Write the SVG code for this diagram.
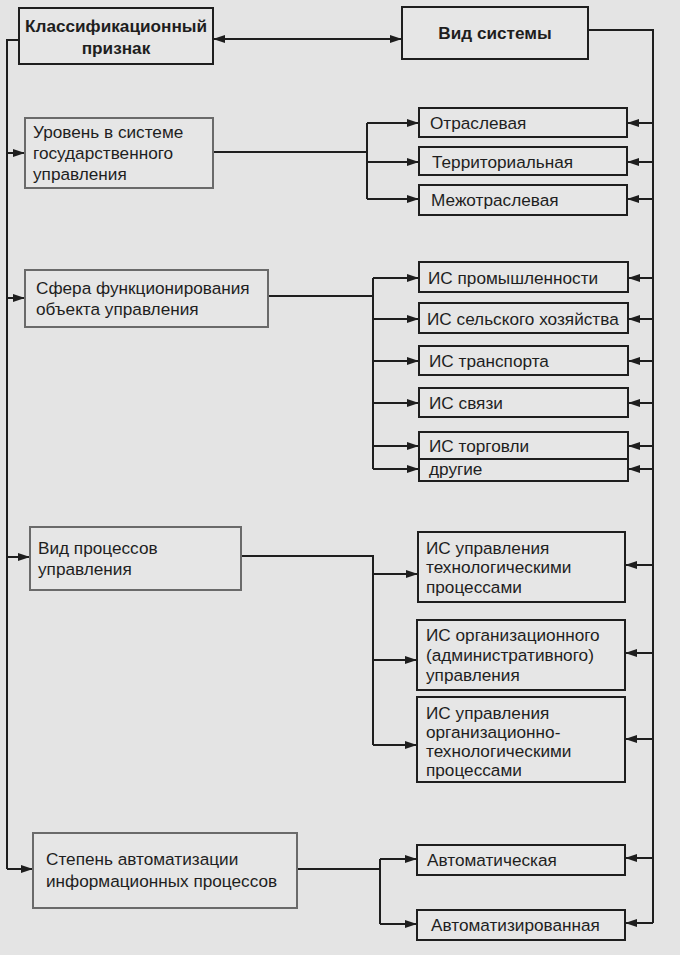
<svg xmlns="http://www.w3.org/2000/svg" width="680" height="955" viewBox="0 0 680 955">
<style>
.bg{fill:#e4e4e4}
.box{fill:#e6e6e6;stroke:#1e1e1e;stroke-width:2}
.lbox{fill:#e6e6e6;stroke:#6a6a6a;stroke-width:2}
.t{font-family:"Liberation Sans",Arial,sans-serif;font-size:17.2px;fill:#1e1e1e}
.b{font-weight:bold;text-anchor:middle}
.c{fill:none;stroke:#1e1e1e;stroke-width:2}
</style>
<defs>
<marker id="ah" viewBox="0 0 12 8" refX="12" refY="4" markerWidth="12" markerHeight="8" markerUnits="userSpaceOnUse" orient="auto-start-reverse">
<path d="M0,0 L12,4 L0,8 Z" fill="#1e1e1e"/>
</marker>
</defs>
<rect class="bg" x="0" y="0" width="680" height="955"/>

<g id="connectors">
<path class="c" d="M19,40 H7 V869"/>
<path class="c" d="M7,153 H25" marker-end="url(#ah)"/>
<path class="c" d="M7,298 H25" marker-end="url(#ah)"/>
<path class="c" d="M7,557 H30" marker-end="url(#ah)"/>
<path class="c" d="M7,869 H33" marker-end="url(#ah)"/>
<path class="c" d="M213,39 H402" marker-start="url(#ah)" marker-end="url(#ah)"/>
<path class="c" d="M588,30 H653 V923"/>
<path class="c" d="M653,123 H627" marker-end="url(#ah)"/>
<path class="c" d="M653,162 H627" marker-end="url(#ah)"/>
<path class="c" d="M653,199 H627" marker-end="url(#ah)"/>
<path class="c" d="M653,278 H628" marker-end="url(#ah)"/>
<path class="c" d="M653,319 H628" marker-end="url(#ah)"/>
<path class="c" d="M653,361 H628" marker-end="url(#ah)"/>
<path class="c" d="M653,403 H628" marker-end="url(#ah)"/>
<path class="c" d="M653,446 H628" marker-end="url(#ah)"/>
<path class="c" d="M653,469 H628" marker-end="url(#ah)"/>
<path class="c" d="M653,565 H625" marker-end="url(#ah)"/>
<path class="c" d="M653,653 H625" marker-end="url(#ah)"/>
<path class="c" d="M653,739 H625" marker-end="url(#ah)"/>
<path class="c" d="M653,858 H625" marker-end="url(#ah)"/>
<path class="c" d="M653,923 H625" marker-end="url(#ah)"/>
<path class="c" d="M213,152 H367"/>
<path class="c" d="M367,123 V199"/>
<path class="c" d="M367,123 H419" marker-end="url(#ah)"/>
<path class="c" d="M367,162 H419" marker-end="url(#ah)"/>
<path class="c" d="M367,199 H419" marker-end="url(#ah)"/>
<path class="c" d="M268,296 H373"/>
<path class="c" d="M373,278 V469"/>
<path class="c" d="M373,278 H419" marker-end="url(#ah)"/>
<path class="c" d="M373,319 H419" marker-end="url(#ah)"/>
<path class="c" d="M373,361 H419" marker-end="url(#ah)"/>
<path class="c" d="M373,403 H419" marker-end="url(#ah)"/>
<path class="c" d="M373,446 H419" marker-end="url(#ah)"/>
<path class="c" d="M373,469 H419" marker-end="url(#ah)"/>
<path class="c" d="M241,556 H373 V745"/>
<path class="c" d="M373,574 H418" marker-end="url(#ah)"/>
<path class="c" d="M373,660 H417" marker-end="url(#ah)"/>
<path class="c" d="M373,745 H417" marker-end="url(#ah)"/>
<path class="c" d="M297,869 H380"/>
<path class="c" d="M380,859 V924"/>
<path class="c" d="M380,859 H417" marker-end="url(#ah)"/>
<path class="c" d="M380,924 H417" marker-end="url(#ah)"/>
</g>

<g id="klass">
<rect class="box" x="19" y="8" width="194" height="56"/>
<text class="t b" x="116" y="32">Классификационный</text>
<text class="t b" x="116" y="54">признак</text>
</g>
<g id="vid-sistemy">
<rect class="box" x="402" y="7" width="186" height="52"/>
<text class="t b" x="495" y="39">Вид системы</text>
</g>

<g id="uroven">
<rect class="lbox" x="25" y="118" width="188" height="70"/>
<text class="t" x="33" y="138">Уровень в системе</text>
<text class="t" x="33" y="159">государственного</text>
<text class="t" x="33" y="180">управления</text>
</g>
<g id="sfera">
<rect class="lbox" x="25" y="270" width="243" height="57"/>
<text class="t" x="36" y="294">Сфера функционирования</text>
<text class="t" x="36" y="315">объекта управления</text>
</g>
<g id="vid-processov">
<rect class="lbox" x="30" y="527" width="211" height="63"/>
<text class="t" x="38" y="554">Вид процессов</text>
<text class="t" x="38" y="575">управления</text>
</g>
<g id="stepen">
<rect class="lbox" x="33" y="833" width="264" height="75"/>
<text class="t" x="46" y="865">Степень автоматизации</text>
<text class="t" x="46" y="887">информационных процессов</text>
</g>

<g id="otraslevaya">
<rect class="box" x="419" y="108" width="208" height="29"/>
<text class="t" x="430" y="129">Отраслевая</text>
</g>
<g id="territorialnaya">
<rect class="box" x="419" y="147" width="208" height="28"/>
<text class="t" x="432" y="168">Территориальная</text>
</g>
<g id="mezhotraslevaya">
<rect class="box" x="419" y="185" width="208" height="30"/>
<text class="t" x="431" y="206">Межотраслевая</text>
</g>

<g id="is-prom">
<rect class="box" x="419" y="262" width="209" height="30"/>
<text class="t" x="428" y="284">ИС промышленности</text>
</g>
<g id="is-selsk">
<rect class="box" x="419" y="303" width="209" height="30"/>
<text class="t" x="427" y="325">ИС сельского хозяйства</text>
</g>
<g id="is-transp">
<rect class="box" x="419" y="346" width="209" height="29"/>
<text class="t" x="429" y="367">ИС транспорта</text>
</g>
<g id="is-svyazi">
<rect class="box" x="419" y="388" width="209" height="29"/>
<text class="t" x="429" y="409">ИС связи</text>
</g>
<g id="is-torgovli">
<rect class="box" x="419" y="432" width="209" height="49"/>
<line class="c" x1="419" y1="459" x2="628" y2="459"/>
<text class="t" x="429" y="452">ИС торговли</text>
<text class="t" x="429" y="475">другие</text>
</g>

<g id="is-tehn">
<rect class="box" x="418" y="532" width="207" height="70"/>
<text class="t" x="426" y="554">ИС управления</text>
<text class="t" x="426" y="573">технологическими</text>
<text class="t" x="426" y="593">процессами</text>
</g>
<g id="is-org">
<rect class="box" x="417" y="620" width="208" height="70"/>
<text class="t" x="426" y="641">ИС организационного</text>
<text class="t" x="426" y="661">(административного)</text>
<text class="t" x="426" y="681">управления</text>
</g>
<g id="is-orgtehn">
<rect class="box" x="417" y="697" width="208" height="85"/>
<text class="t" x="426" y="719">ИС управления</text>
<text class="t" x="426" y="738">организационно-</text>
<text class="t" x="426" y="757">технологическими</text>
<text class="t" x="426" y="776">процессами</text>
</g>

<g id="avtomaticheskaya">
<rect class="box" x="417" y="845" width="208" height="30"/>
<text class="t" x="427" y="866">Автоматическая</text>
</g>
<g id="avtomatizirovannaya">
<rect class="box" x="417" y="910" width="208" height="30"/>
<text class="t" x="431" y="931">Автоматизированная</text>
</g>
</svg>
